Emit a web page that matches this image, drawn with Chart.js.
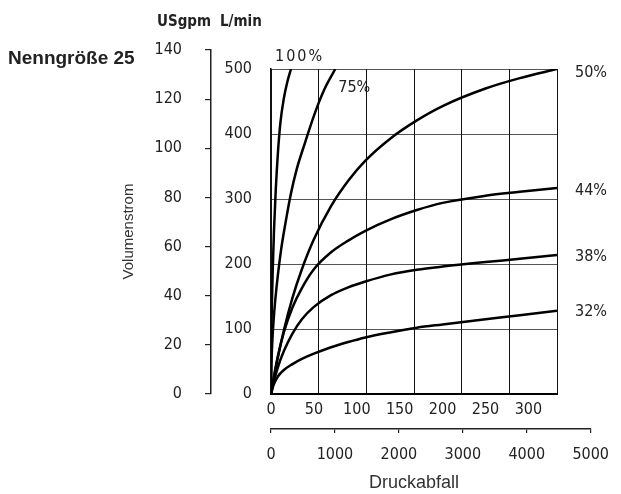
<!DOCTYPE html>
<html>
<head>
<meta charset="utf-8">
<script src="https://cdn.jsdelivr.net/npm/chart.js@4"></script>
<style>
  body { margin: 0; background: #fff; }
  #wrap { position: relative; width: 621px; height: 494px; }
  .layer { position: absolute; left: 0; top: 0; width: 621px; height: 494px; }
  .txt { position: absolute; color: #222; white-space: nowrap; line-height: 20px; }
  #size { left: 8px; top: 47px; font: bold 19px 'Liberation Sans', Arial, sans-serif; }
  .unit { top: 12px; font: bold 15px 'Liberation Sans Narrow', 'DejaVu Sans Condensed', sans-serif; }
</style>
</head>
<body>
<div id="wrap">
  <div class="layer"><canvas id="mainChart"></canvas></div>
  <div class="layer"><canvas id="gpmAxis"></canvas></div>
  <div class="layer"><canvas id="pressAxis"></canvas></div>
  <div class="txt" id="size">Nenngröße 25</div>
  <div class="txt unit" style="left:157px">USgpm</div>
  <div class="txt unit" style="left:220px">L/min</div>
</div>
<script>
  // Flow (L/min) against pressure drop (psi), one pair of arrays per valve opening
  const psi100 = [0, 0.3, 1, 2, 3.5, 5.5, 8, 11, 15, 19, 23.3];
  const flow100 = [0, 74, 135, 190, 252, 313, 370, 418, 455, 480, 500];

  const psi75 = [0, 0.5, 1.5, 3, 5, 8, 12, 17, 23, 30, 40, 50, 62, 74.9];
  const flow75 = [0, 45, 80, 113, 145, 183, 224, 264, 307, 346, 388, 428, 468, 500];

  // the slower curves share one set of pressure points
  const psiLow = [0, 3, 8, 15, 25, 36, 50, 70, 90, 110, 140, 170, 200, 250, 290, 333.3];
  const flow50 = [0, 22, 56, 98, 148, 192, 238, 289, 328, 359, 394, 421, 443, 470, 486, 500];
  const flow44 = [0, 24, 58, 95, 133, 163, 192, 218, 236, 251, 269, 283, 294, 305, 311, 317];
  const flow38 = [0, 17, 41, 66, 93, 115, 134, 152, 164, 173, 184, 191, 196, 203, 208, 214];
  const flow32 = [0, 14, 27, 37, 46, 54, 62, 72, 80, 87, 95, 102, 107, 115, 121, 128];

  const openings = ['100%', '75%', '50%', '44%', '38%', '32%'];
  const psiSeries = [psi100, psi75, psiLow, psiLow, psiLow, psiLow];
  const flowSeries = [flow100, flow75, flow50, flow44, flow38, flow32];

  // tick labels and ranges
  const psiTicks = [0, 50, 100, 150, 200, 250, 300];
  const psiMax = 333.33;
  const lpmMax = 500;
  const gpmMax = 140;
  const mbarMax = 5000;

  const NARROW = "'Liberation Sans Narrow', 'DejaVu Sans Condensed', sans-serif";
  const PLAIN = "'Liberation Sans', Arial, sans-serif";
  const INK = '#222';

  // where each opening label sits relative to the end of its curve
  const labelPlace = [
    { dx: -16, dy: -12, spacing: '2px' },
    { dx: 3, dy: 19 },
    { dx: 18, dy: 4 },
    { dx: 18, dy: 3 },
    { dx: 18, dy: 2 },
    { dx: 18, dy: 1 }
  ];

  const endLabels = {
    id: 'endLabels',
    afterDatasetsDraw(chart) {
      const ctx = chart.ctx;
      ctx.save();
      ctx.font = '16px ' + NARROW;
      ctx.fillStyle = INK;
      ctx.textAlign = 'left';
      ctx.textBaseline = 'middle';
      chart.data.datasets.forEach((ds, i) => {
        const pts = chart.getDatasetMeta(i).data;
        const last = pts[pts.length - 1];
        const p = labelPlace[i];
        ctx.letterSpacing = p.spacing || '0px';
        ctx.fillText(ds.label, last.x + p.dx, last.y + p.dy);
      });
      ctx.restore();
    }
  };

  const datasets = openings.map((name, i) => ({
    label: name,
    data: psiSeries[i].map((p, j) => ({ x: p, y: flowSeries[i][j] })),
    xAxisID: 'psi',
    yAxisID: 'y',
    borderColor: '#000',
    borderWidth: 2.5,
    pointRadius: 0,
    fill: false,
    cubicInterpolationMode: 'monotone'
  }));

  const noPlugins = { legend: { display: false }, tooltip: { enabled: false } };
  const plainNumber = v => String(v);

  document.addEventListener('DOMContentLoaded', function() {
    // main plot: L/min against pressure drop
    new Chart(document.getElementById('mainChart'), {
      type: 'line',
      data: { datasets: datasets },
      options: {
        responsive: true,
        maintainAspectRatio: false,
        animation: false,
        layout: { padding: { left: 120, top: 69, right: 64, bottom: 0 } },
        plugins: noPlugins,
        scales: {
          y: {
            type: 'linear',
            position: 'left',
            min: 0,
            max: lpmMax,
            ticks: { stepSize: 100, padding: 19, color: INK, font: { family: NARROW, size: 16 } },
            grid: { color: '#555', lineWidth: 1, drawTicks: false },
            border: { color: '#111', width: 1.5 },
            title: { display: true, text: 'Volumenstrom', color: '#333', padding: 0,
                     font: { family: PLAIN, size: 15 } },
            afterFit: s => { s.width = 151; }
          },
          x: {
            type: 'linear',
            position: 'bottom',
            min: 0,
            max: 6,
            ticks: { stepSize: 1, display: false },
            grid: { color: '#111', lineWidth: 1, drawTicks: false },
            border: { color: '#000', width: 2 },
            afterFit: s => { s.height = 0; }
          },
          psi: {
            type: 'linear',
            position: 'bottom',
            min: 0,
            max: psiMax,
            afterBuildTicks: s => { s.ticks = psiTicks.map(v => ({ value: v })); },
            ticks: { padding: 6, color: INK, font: { family: NARROW, size: 16 },
                     autoSkip: false, maxRotation: 0, callback: plainNumber },
            grid: { display: false, drawTicks: false },
            border: { display: false },
            title: { display: true, text: 'Druckabfall', color: '#333', padding: { top: 0, bottom: 0 },
                     font: { family: PLAIN, size: 18 } },
            afterFit: s => { s.height = 100; }
          }
        }
      },
      plugins: [endLabels]
    });

    // USgpm axis on the left
    new Chart(document.getElementById('gpmAxis'), {
      type: 'line',
      data: { datasets: [] },
      options: {
        responsive: true,
        maintainAspectRatio: false,
        animation: false,
        layout: { padding: { left: 140, top: 50, right: 400, bottom: 100 } },
        plugins: noPlugins,
        scales: {
          x: { type: 'linear', display: false, min: 0, max: 1 },
          y: {
            type: 'linear',
            position: 'left',
            min: 0,
            max: gpmMax,
            ticks: { stepSize: 20, padding: 23, color: INK, font: { family: NARROW, size: 16 } },
            grid: { drawOnChartArea: false, tickLength: 6, color: INK, lineWidth: 1.2 },
            border: { color: INK, width: 1.5 },
            afterFit: s => { s.width = 71; }
          }
        }
      }
    });

    // second pressure scale under the plot
    new Chart(document.getElementById('pressAxis'), {
      type: 'line',
      data: { datasets: [] },
      options: {
        responsive: true,
        maintainAspectRatio: false,
        animation: false,
        layout: { padding: { left: 271, top: 400, right: 19, bottom: 0 } },
        plugins: noPlugins,
        scales: {
          y: { type: 'linear', display: false, min: 0, max: 1 },
          x: {
            type: 'linear',
            position: 'bottom',
            min: 0,
            max: mbarMax,
            ticks: { stepSize: 1000, padding: 12, color: INK, font: { family: NARROW, size: 16 },
                     autoSkip: false, maxRotation: 0, callback: plainNumber },
            grid: { drawOnChartArea: false, tickLength: 4, color: INK, lineWidth: 1.2 },
            border: { color: INK, width: 1.5 },
            afterFit: s => { s.height = 65; }
          }
        }
      }
    });
  });
</script>
</body>
</html>
